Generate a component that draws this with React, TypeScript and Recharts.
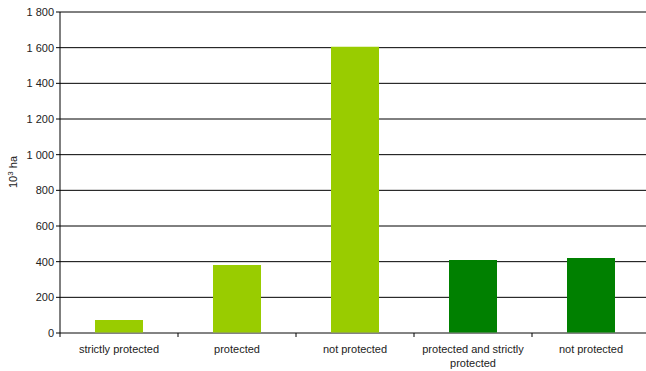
import React from 'react';
import { BarChart, Bar, XAxis, YAxis, CartesianGrid, Cell, Label } from 'recharts';

const categories = ['strictly protected', 'protected', 'not protected', 'protected and strictly protected', 'not protected'];
const values = [73, 382, 1605, 409, 420];
const colors = ['#99cc00', '#99cc00', '#99cc00', '#008000', '#008000'];
const yTicks = [0, 200, 400, 600, 800, 1000, 1200, 1400, 1600, 1800];

const data = categories.map((name, i) => ({ key: `c${i}`, name, value: values[i] }));

const CHART_W = 650;
const PLOT_LEFT = 60;
const BAND = (CHART_W - PLOT_LEFT) / categories.length;

const wrap = (s: string): string[] => (s === 'protected and strictly protected' ? ['protected and strictly', 'protected'] : [s]);

const XTick = (props: any) => {
  const { x, y, payload, index } = props;
  const label = data[payload.index ?? index]?.name ?? '';
  const lines = wrap(label);
  const left = x - BAND / 2;
  return (
    <g>
      <line x1={left} y1={y - 8} x2={left} y2={y - 4} stroke="#000" />
      {index === categories.length - 1 && (
        <line x1={x + BAND / 2} y1={y - 8} x2={x + BAND / 2} y2={y - 4} stroke="#000" />
      )}
      <text x={x} y={y + 12} textAnchor="middle" fontSize={11} fill="#222">
        {lines.map((l, i) => (
          <tspan key={i} x={x} dy={i === 0 ? 0 : 14}>
            {l}
          </tspan>
        ))}
      </text>
    </g>
  );
};

const fmt = (v: number) => String(v).replace(/\B(?=(\d{3})+(?!\d))/g, ' ');

export default function App() {
  return (
    <div
      style={{
        position: 'absolute',
        left: 0,
        top: 0,
        width: 646,
        height: 371,
        overflow: 'hidden',
        fontFamily: '"Liberation Sans", Arial, sans-serif',
      }}
    >
      <BarChart width={CHART_W} height={371} data={data} margin={{ top: 12, right: 0, left: 0, bottom: 0 }}>
        <CartesianGrid vertical={false} stroke="#000" strokeWidth={1} />
        <XAxis
          dataKey="key"
          height={38}
          tickLine={false}
          axisLine={{ stroke: '#888' }}
          tick={<XTick />}
          interval={0}
        />
        <YAxis
          width={60}
          domain={[0, 1800]}
          ticks={yTicks}
          tickFormatter={fmt}
          tickSize={4}
          tickLine={{ stroke: '#000' }}
          axisLine={{ stroke: '#000' }}
          tick={{ fontSize: 11, fill: '#222' }}
          interval={0}
        >
          <Label
            content={() => (
              <text x={17} y={172} transform="rotate(-90 17 172)" textAnchor="middle" fontSize={11} fill="#222">
                10<tspan dy={-4} fontSize={8}>3</tspan><tspan dy={4}> ha</tspan>
              </text>
            )}
          />
        </YAxis>
        <Bar dataKey="value" barSize={48} isAnimationActive={false}>
          {data.map((d, i) => (
            <Cell key={d.key} fill={colors[i]} />
          ))}
        </Bar>
      </BarChart>
    </div>
  );
}
